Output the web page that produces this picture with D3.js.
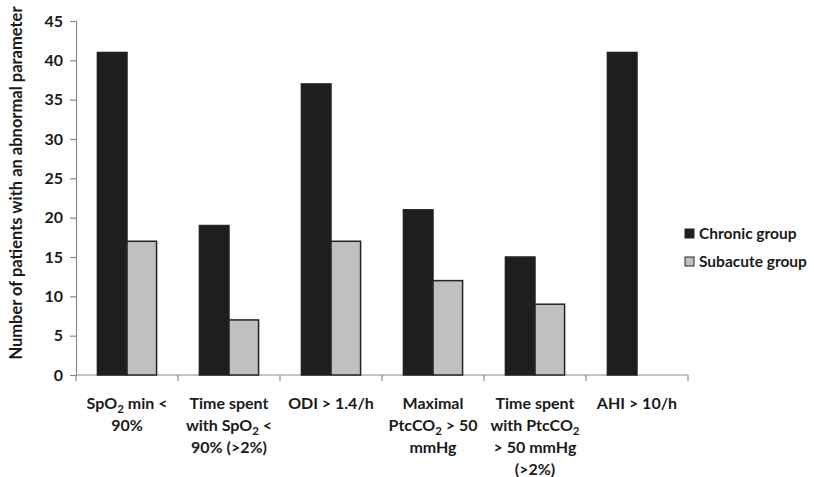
<!DOCTYPE html>
<html><head><meta charset="utf-8">
<script src="https://cdn.jsdelivr.net/npm/d3@7"></script>
<style>body{margin:0;background:#fff}svg{display:block}text{font-family:Lato,"Open Sans",sans-serif;font-weight:bold;fill:#1a1a1a}</style>
</head><body><svg id="c" width="814" height="477"></svg>
<script>
const categories = [
  ["SpO{2} min <", "90%"],
  ["Time spent", "with SpO{2} <", "90% (>2%)"],
  ["ODI > 1.4/h"],
  ["Maximal", "PtcCO{2} > 50", "mmHg"],
  ["Time spent", "with PtcCO{2}", "> 50 mmHg", "(>2%)"],
  ["AHI > 10/h"]
];
const seriesNames = ["Chronic group", "Subacute group"];
const chronic = [41, 19, 37, 21, 15, 41];
const subacute = [17, 7, 17, 12, 9, null];
const yTicks = [0, 5, 10, 15, 20, 25, 30, 35, 40, 45];
const yTitle = "Number of patients with an abnormal parameter";
const colors = ["#1e1e1e", "#c0c0c2"];

const svg = d3.select("#c");
const mLeft = 76, mRight = 688, mTop = 21, mBottom = 375;
const x = d3.scaleBand().domain(d3.range(categories.length)).range([mLeft, mRight]).paddingInner(0.42).paddingOuter(0.21);
const xs = d3.scaleBand().domain([0, 1]).range([0, x.bandwidth()]);
const y = d3.scaleLinear().domain([0, 45]).range([mBottom, mTop]);

// axes
const gy = svg.append("g").attr("transform", `translate(${mLeft},0)`)
  .call(d3.axisLeft(y).tickValues(yTicks).tickSize(6).tickPadding(7));
gy.select(".domain").attr("stroke", "#8a8a8a").attr("stroke-width", 1.2);
gy.selectAll(".tick line").attr("stroke", "#8a8a8a").attr("stroke-width", 1.2);
gy.selectAll(".tick text").style("font-size", "16px").style("font-family", "Lato,sans-serif").style("font-weight", "bold").attr("fill", "#1a1a1a");

const bounds = d3.range(categories.length + 1).map(i => mLeft + i * (mRight - mLeft) / categories.length);
const gx = svg.append("g");
gx.append("line").attr("x1", mLeft).attr("x2", mRight).attr("y1", mBottom).attr("y2", mBottom).attr("stroke", "#8a8a8a").attr("stroke-width", 1.2);
gx.selectAll("line.t").data(bounds).join("line").attr("class", "t")
  .attr("x1", d => d).attr("x2", d => d).attr("y1", mBottom).attr("y2", mBottom + 6).attr("stroke", "#8a8a8a").attr("stroke-width", 1.2);

// bars
const data = categories.map((c, i) => [chronic[i], subacute[i]]);
const groups = svg.append("g").selectAll("g").data(data).join("g").attr("transform", (d, i) => `translate(${x(i)},0)`);
groups.selectAll("rect").data(d => d.map((v, k) => ({v, k})).filter(e => e.v != null)).join("rect")
  .attr("x", e => xs(e.k)).attr("width", xs.bandwidth())
  .attr("y", e => y(e.v)).attr("height", e => y(0) - y(e.v))
  .attr("fill", e => colors[e.k]).attr("stroke", "#222").attr("stroke-width", 1.5);

// category labels
function addLine(t, str) {
  const parts = str.split(/(\{[^}]*\})/).filter(s => s.length);
  let shift = 0;
  parts.forEach(p => {
    if (p.startsWith("{")) {
      t.append("tspan").text(p.slice(1, -1)).attr("font-size", "11.5px").attr("dy", 4 - shift);
      shift = 4;
    } else {
      t.append("tspan").text(p).attr("dy", -shift);
      shift = 0;
    }
  });
}
categories.forEach((lines, i) => {
  const cx = x(i) + x.bandwidth() / 2;
  lines.forEach((ln, j) => {
    const t = svg.append("text").attr("x", cx).attr("y", 409 + j * 22).attr("text-anchor", "middle").style("font-size", "16px");
    addLine(t, ln);
  });
});

// y title
svg.append("text").attr("transform", "translate(22,183) rotate(-90)").attr("text-anchor", "middle").style("font-size", "16.5px").text(yTitle);

// legend
seriesNames.forEach((n, k) => {
  const ly = 229 + k * 28;
  svg.append("rect").attr("x", 685).attr("y", ly).attr("width", 9).attr("height", 9).attr("fill", colors[k]).attr("stroke", "#222").attr("stroke-width", 1);
  svg.append("text").attr("x", 699).attr("y", ly + 10).style("font-size", "15.5px").text(n);
});
</script></body></html>
